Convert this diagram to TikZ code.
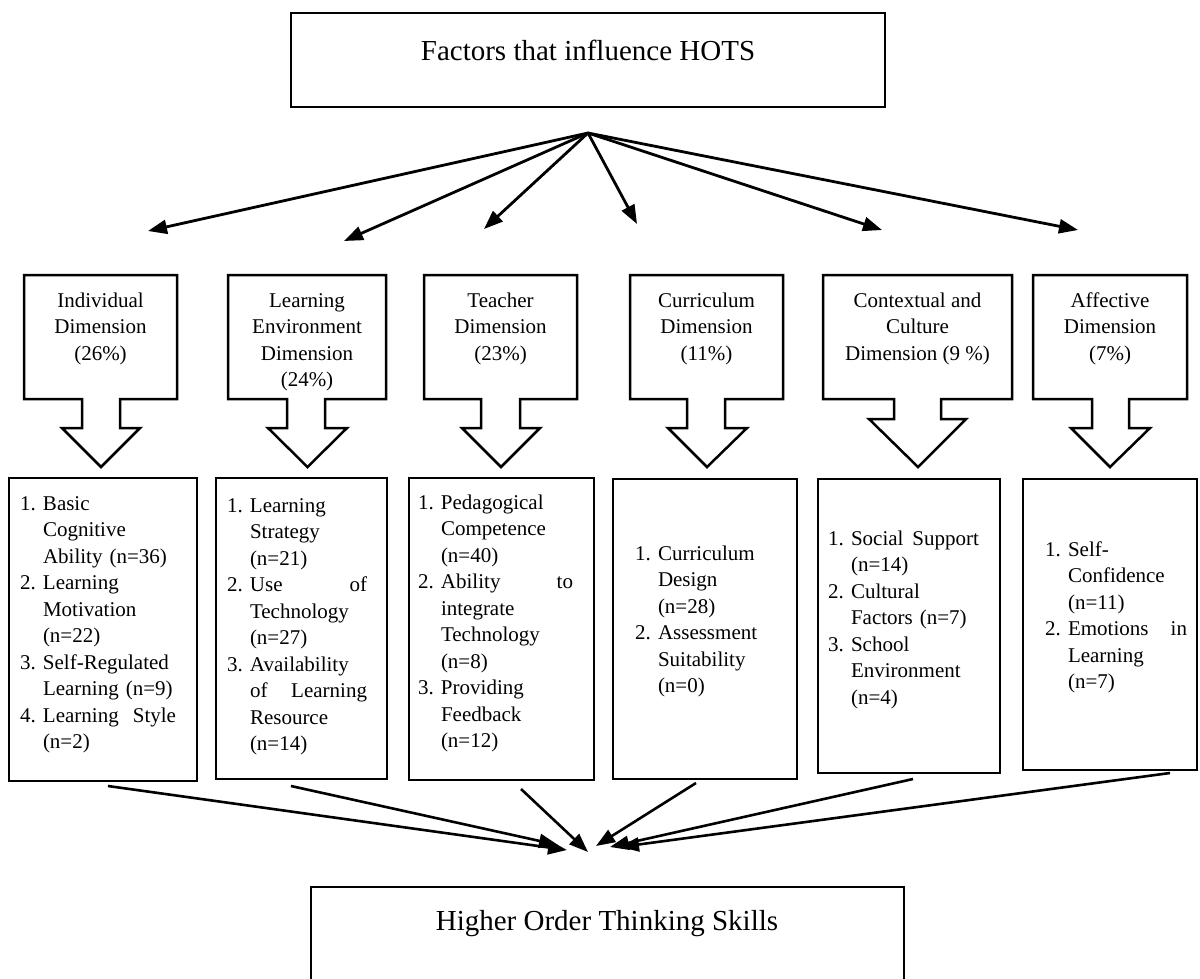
\documentclass[tikz,border=0pt]{standalone}
\usepackage{fontspec}
\setmainfont{Liberation Serif}
\usetikzlibrary{arrows.meta}
\newcommand\itm[2]{\noindent\hangindent=23pt\hangafter=1\makebox[23pt][l]{\rule{0pt}{15pt}#1}#2\par}
\newcommand\dimcallout[8]{%
  \draw[call] (#1,275) -- (#2,275) -- (#2,399) -- (#4,399) -- (#4,#8) -- (#6,#8) -- (#7,467)
    -- (#5,#8) -- (#3,#8) -- (#3,399) -- (#1,399) -- cycle;}
\begin{document}
\begin{tikzpicture}[x=1pt,y=-1pt,
  box/.style={draw, line width=2.5pt, outer sep=0pt, inner sep=0pt},
  call/.style={draw, line width=2.5pt, line join=miter},
  lbl/.style={font=\fontsize{21}{26.5}\selectfont, inner sep=0pt, outer sep=0pt},
  big/.style={font=\fontsize{29}{34}\selectfont, inner sep=0pt},
  arr/.style={line width=2.8pt, -{Triangle[length=19pt,width=14pt]}},
  arrb/.style={line width=2.6pt, -{Triangle[length=19pt,width=14pt]}}]
\useasboundingbox (0,0) rectangle (1200,978);
\clip (0,0) rectangle (1200,978);
% top box
\node[box, anchor=north west, minimum width=594pt, minimum height=94pt] (top) at (291,13) {};
\node[big, anchor=base] (toptxt) at (588,60) {Factors that influence HOTS};
% bottom box
\node[box, anchor=north west, minimum width=593pt, minimum height=140pt] (hots) at (311,887) {};
\node[big, anchor=base] (hotstxt) at (607,930) {Higher Order Thinking Skills};
% callouts
\dimcallout{24}{177}{82}{120}{62}{140}{101}{428}
\dimcallout{228}{386}{287}{325}{268}{347}{307.5}{428}
\dimcallout{424}{577}{481}{520}{462}{540}{501}{428}
\dimcallout{630}{783}{687}{725}{668}{747}{707}{428}
\dimcallout{823}{1012}{894}{941}{869}{966}{918}{419}
\dimcallout{1033}{1187}{1092}{1129}{1071}{1150}{1110}{428}
\node[lbl, anchor=north, align=center] (d1) at (100.5,292) {\rule{0pt}{15pt}Individual\\Dimension\\(26\%)};
\node[lbl, anchor=north, align=center] (d2) at (307,292) {\rule{0pt}{15pt}Learning\\Environment\\Dimension\\(24\%)};
\node[lbl, anchor=north, align=center] (d3) at (500.5,292) {\rule{0pt}{15pt}Teacher\\Dimension\\(23\%)};
\node[lbl, anchor=north, align=center] (d4) at (706.5,292) {\rule{0pt}{15pt}Curriculum\\Dimension\\(11\%)};
\node[lbl, anchor=north, align=center] (d5) at (917.5,292) {\rule{0pt}{15pt}Contextual and\\Culture\\Dimension (9 \%)};
\node[lbl, anchor=north, align=center] (d6) at (1110,292) {\rule{0pt}{15pt}Affective\\Dimension\\(7\%)};
% list boxes
\node[box, anchor=north west, minimum width=188pt, minimum height=303pt] (B1) at (9,478) {};
\node[box, anchor=north west, minimum width=171pt, minimum height=301pt] (B2) at (216,478) {};
\node[box, anchor=north west, minimum width=185pt, minimum height=302pt] (B3) at (409,478) {};
\node[box, anchor=north west, minimum width=184pt, minimum height=300pt] (B4) at (613,479) {};
\node[box, anchor=north west, minimum width=182pt, minimum height=294pt] (B5) at (818,479) {};
\node[box, anchor=north west, minimum width=174pt, minimum height=291pt] (B6) at (1023,479) {};
% list texts
\node[lbl, anchor=north west, text width=156pt] (L1) at (20,495) {%
\itm{1.}{Basic\newline Cognitive\newline Ability (n=36)}
\itm{2.}{Learning\newline Motivation\newline (n=22)}
\itm{3.}{Self-Regulated\newline Learning (n=9)}
\itm{4.}{Learning\hfill Style\newline (n=2)}};
\node[lbl, anchor=north west, text width=140pt] (L2) at (227,497) {%
\itm{1.}{Learning\newline Strategy\newline (n=21)}
\itm{2.}{Use\hfill of\newline Technology\newline (n=27)}
\itm{3.}{Availability\newline of\hfill Learning\newline Resource\newline (n=14)}};
\node[lbl, anchor=north west, text width=155pt] (L3) at (418,494) {%
\itm{1.}{Pedagogical\newline Competence\newline (n=40)}
\itm{2.}{Ability\hfill to\newline integrate\newline Technology\newline (n=8)}
\itm{3.}{Providing\newline Feedback\newline (n=12)}};
\node[lbl, anchor=north west, text width=128pt] (L4) at (635,545) {%
\itm{1.}{Curriculum\newline Design\newline (n=28)}
\itm{2.}{Assessment\newline Suitability\newline (n=0)}};
\node[lbl, anchor=north west, text width=151pt] (L5) at (828,530) {%
\itm{1.}{Social\hfill Support\newline (n=14)}
\itm{2.}{Cultural\newline Factors (n=7)}
\itm{3.}{School\newline Environment\newline (n=4)}};
\node[lbl, anchor=north west, text width=142pt] (L6) at (1045,541) {%
\itm{1.}{Self-\newline Confidence\newline (n=11)}
\itm{2.}{Emotions\hfill in\newline Learning\newline (n=7)}};
% top arrows
\coordinate (src) at (588,133);
\coordinate (t1) at (148,231);
\coordinate (t2) at (344,241);
\coordinate (t3) at (484,229);
\coordinate (t4) at (637,224);
\coordinate (t5) at (882,230);
\coordinate (t6) at (1078,230);
\foreach \t in {t1,t2,t3,t4,t5,t6} \draw[arr] (src) -- (\t);
% bottom arrows
\coordinate (s1) at (108,786);  \coordinate (e1) at (567,850);
\coordinate (s2) at (291,786);  \coordinate (e2) at (558,845);
\coordinate (s3) at (521,789);  \coordinate (e3) at (588,852);
\coordinate (s4) at (696,783);  \coordinate (e4) at (596,846);
\coordinate (s5) at (913,779);  \coordinate (e5) at (610,847);
\coordinate (s6) at (1170,773); \coordinate (e6) at (620,847);
\foreach \i in {1,...,6} \draw[arrb] (s\i) -- (e\i);
\end{tikzpicture}
\end{document}
